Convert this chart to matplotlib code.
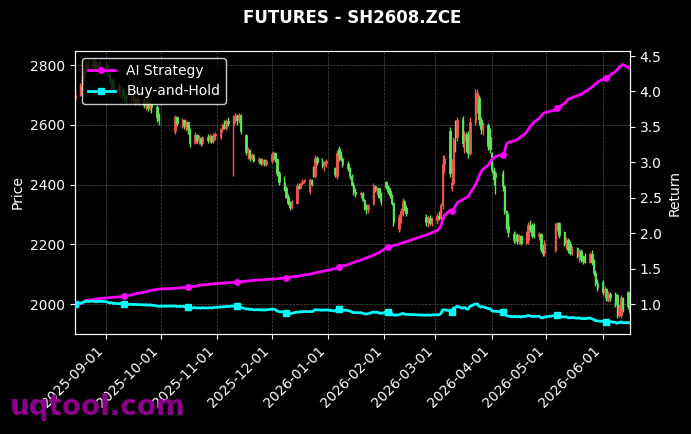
import numpy as np
import pandas as pd
import matplotlib
matplotlib.use("Agg")
import matplotlib.pyplot as plt
import matplotlib.dates as mdates

# ---- trading calendar (exchange holidays removed) ----
holidays = pd.to_datetime([
    "2025-10-01", "2025-10-02", "2025-10-03", "2025-10-06", "2025-10-07", "2025-10-08",
    "2026-01-01", "2026-01-02",
    "2026-02-16", "2026-02-17", "2026-02-18", "2026-02-19", "2026-02-20", "2026-02-23",
    "2026-04-06", "2026-05-01", "2026-05-04", "2026-05-05",
])
dates = pd.bdate_range("2025-08-15", "2026-06-16")
dates = dates[~dates.isin(holidays)]

# ---- OHLC ----
opens = [
    2690, 2700, 2730, 2755, 2780, 2805, 2795, 2815, 2790, 2800, 2795,
    2805, 2790, 2770, 2745, 2750, 2725, 2715, 2720, 2700, 2695, 2685, 2690, 2680, 2688, 2675,
    2682, 2665, 2675, 2655, 2668, 2660, 2625,
    2580, 2625, 2605, 2615, 2595, 2608, 2585, 2540, 2565, 2548, 2555, 2540, 2558, 2548, 2562, 2545, 2566,
    2560, 2585, 2598, 2590, 2612, 2600, 2625, 2630, 2615, 2632, 2565, 2510, 2515, 2490, 2498,
    2480, 2485, 2472, 2482, 2470,
    2478, 2490, 2505, 2485, 2440, 2410, 2390, 2360, 2340, 2325, 2340, 2395, 2390, 2405, 2412,
    2380, 2415, 2460, 2430, 2490, 2475, 2465, 2472,
    2455, 2430, 2520, 2500, 2485, 2470, 2455, 2430, 2400, 2375, 2368, 2372, 2350, 2330, 2318,
    2335, 2395, 2382, 2388, 2360,
    2410, 2392, 2380, 2365, 2340, 2250, 2280, 2300, 2345, 2320, 2290, 2275, 2288, 2270,
    2282, 2295, 2288, 2330, 2470, 2580, 2390, 2405, 2600, 2560, 2620, 2545, 2570, 2565, 2505,
    2610, 2690, 2690, 2615, 2585, 2600, 2560,
    2505, 2450, 2440, 2440, 2395, 2310, 2260, 2235, 2215, 2230, 2210, 2228, 2205, 2215, 2265,
    2250, 2265, 2228, 2235, 2185, 2170,
    2180, 2255, 2270, 2240, 2205, 2215, 2200, 2172, 2188, 2160, 2178, 2150, 2160, 2142, 2168,
    2140, 2105, 2072,
    2075, 2040, 2050, 2015, 2035, 2035, 2030, 1965, 1965, 2020, 2040, 1995,
]
highs = [
    2715, 2740, 2765, 2790, 2815, 2820, 2825, 2820, 2810, 2815, 2812,
    2815, 2800, 2785, 2760, 2755, 2740, 2730, 2725, 2715, 2705, 2700, 2705, 2695, 2698, 2690,
    2690, 2685, 2680, 2675, 2672, 2665, 2640,
    2632, 2630, 2622, 2620, 2615, 2610, 2590, 2575, 2570, 2565, 2560, 2562, 2570, 2568, 2566, 2572, 2575,
    2590, 2605, 2615, 2620, 2625, 2632, 2640, 2635, 2640, 2636, 2570, 2525, 2520, 2505, 2502,
    2492, 2490, 2488, 2486, 2485,
    2510, 2512, 2508, 2490, 2445, 2430, 2395, 2370, 2345, 2350, 2405, 2405, 2410, 2418, 2418,
    2422, 2420, 2462, 2500, 2495, 2490, 2480, 2485,
    2458, 2515, 2528, 2512, 2492, 2480, 2460, 2435, 2410, 2390, 2378, 2375, 2352, 2335, 2335,
    2405, 2400, 2392, 2390, 2375,
    2412, 2400, 2390, 2370, 2342, 2300, 2320, 2355, 2350, 2330, 2300, 2295, 2298, 2290,
    2305, 2310, 2340, 2500, 2500, 2592, 2485, 2560, 2615, 2625, 2630, 2580, 2575, 2580, 2625,
    2720, 2720, 2700, 2625, 2610, 2605, 2590,
    2510, 2460, 2445, 2450, 2400, 2315, 2305, 2245, 2240, 2238, 2235, 2232, 2245, 2275, 2280,
    2270, 2272, 2240, 2238, 2200, 2215,
    2270, 2275, 2275, 2245, 2225, 2220, 2210, 2195, 2192, 2185, 2185, 2165, 2170, 2175, 2180,
    2150, 2115, 2085,
    2080, 2060, 2055, 2045, 2040, 2040, 2035, 2000, 2030, 2025, 2045, 2005,
]
lows = [
    2680, 2695, 2720, 2745, 2770, 2785, 2790, 2780, 2770, 2780, 2775,
    2780, 2760, 2735, 2720, 2715, 2700, 2690, 2685, 2680, 2670, 2670, 2675, 2665, 2668, 2665,
    2655, 2650, 2645, 2648, 2640, 2610, 2600,
    2570, 2595, 2590, 2585, 2580, 2570, 2525, 2535, 2540, 2535, 2530, 2532, 2540, 2542, 2538, 2540, 2550,
    2552, 2575, 2585, 2582, 2595, 2430, 2605, 2600, 2605, 2570, 2500, 2485, 2480, 2482, 2475,
    2468, 2465, 2466, 2462, 2462,
    2472, 2480, 2475, 2430, 2400, 2380, 2355, 2330, 2315, 2318, 2335, 2385, 2388, 2400, 2405,
    2370, 2395, 2425, 2422, 2465, 2455, 2445, 2460,
    2425, 2420, 2480, 2478, 2460, 2445, 2420, 2395, 2365, 2360, 2355, 2345, 2315, 2300, 2305,
    2330, 2375, 2365, 2355, 2330,
    2385, 2370, 2355, 2330, 2260, 2240, 2270, 2295, 2310, 2295, 2262, 2258, 2265, 2262,
    2268, 2280, 2282, 2318, 2440, 2425, 2380, 2400, 2510, 2545, 2525, 2505, 2510, 2490, 2500,
    2600, 2640, 2600, 2570, 2565, 2515, 2505,
    2440, 2400, 2370, 2380, 2300, 2250, 2225, 2205, 2205, 2200, 2202, 2198, 2200, 2200, 2240,
    2220, 2220, 2215, 2175, 2160, 2160,
    2175, 2245, 2220, 2195, 2185, 2170, 2165, 2165, 2155, 2140, 2140, 2135, 2138, 2138, 2132,
    2095, 2060, 2045,
    2030, 2020, 2010, 2008, 2010, 1990, 1955, 1958, 1955, 1975, 1985, 1965,
]
closes = [
    2700, 2730, 2755, 2780, 2805, 2795, 2815, 2790, 2800, 2795, 2805,
    2790, 2770, 2745, 2750, 2725, 2715, 2720, 2700, 2695, 2685, 2690, 2680, 2688, 2675, 2682,
    2665, 2675, 2655, 2668, 2660, 2625, 2615,
    2625, 2605, 2615, 2595, 2608, 2585, 2540, 2565, 2548, 2555, 2540, 2558, 2548, 2562, 2545, 2566, 2570,
    2585, 2598, 2590, 2612, 2605, 2625, 2630, 2615, 2632, 2580, 2510, 2515, 2490, 2498, 2480,
    2485, 2472, 2482, 2470, 2478,
    2502, 2505, 2485, 2440, 2410, 2390, 2360, 2340, 2325, 2345, 2395, 2390, 2405, 2412, 2415,
    2415, 2402, 2432, 2490, 2475, 2465, 2472, 2478,
    2435, 2505, 2500, 2485, 2470, 2455, 2430, 2400, 2375, 2368, 2372, 2350, 2330, 2318, 2330,
    2395, 2382, 2388, 2360, 2345,
    2392, 2380, 2365, 2340, 2275, 2290, 2310, 2345, 2320, 2305, 2275, 2288, 2270, 2282,
    2295, 2288, 2330, 2470, 2485, 2440, 2405, 2550, 2560, 2615, 2540, 2570, 2520, 2505, 2610,
    2700, 2705, 2620, 2585, 2600, 2530, 2520,
    2450, 2420, 2425, 2395, 2310, 2260, 2240, 2215, 2230, 2210, 2228, 2205, 2240, 2265, 2250,
    2230, 2228, 2235, 2185, 2170, 2205,
    2260, 2270, 2230, 2205, 2215, 2180, 2172, 2188, 2160, 2178, 2150, 2145, 2142, 2168, 2140,
    2105, 2072, 2055,
    2040, 2050, 2015, 2035, 2025, 2000, 1965, 1990, 2020, 1985, 1995, 1972,
]
ai_strategy = [
    1.000, 1.005, 1.012, 1.035, 1.050, 1.052, 1.060, 1.068, 1.072, 1.075, 1.080,
    1.085, 1.088, 1.090, 1.092, 1.095, 1.100, 1.102, 1.105, 1.110, 1.118, 1.128, 1.135, 1.142,
    1.150, 1.155, 1.165, 1.172, 1.180, 1.188, 1.195, 1.205, 1.210,
    1.222, 1.225, 1.230, 1.233, 1.236, 1.240, 1.243, 1.250, 1.256, 1.262, 1.266, 1.270, 1.275,
    1.280, 1.282, 1.285, 1.288,
    1.292, 1.295, 1.298, 1.300, 1.302, 1.306, 1.308, 1.310, 1.313, 1.316, 1.322, 1.325, 1.328,
    1.331, 1.334, 1.338, 1.340, 1.342, 1.344, 1.346,
    1.350, 1.352, 1.354, 1.356, 1.360, 1.366, 1.370, 1.374, 1.378, 1.382, 1.390, 1.395, 1.400,
    1.405, 1.410, 1.420, 1.426, 1.432, 1.440, 1.446, 1.460, 1.466, 1.472,
    1.500, 1.510, 1.520, 1.528, 1.535, 1.555, 1.565, 1.575, 1.585, 1.595, 1.620, 1.630, 1.640,
    1.650, 1.660, 1.690, 1.700, 1.712, 1.725, 1.740,
    1.790, 1.800, 1.810, 1.818, 1.825, 1.845, 1.855, 1.865, 1.872, 1.880, 1.975, 1.985, 1.995, 2.005,
    2.040, 2.060, 2.100, 2.180, 2.250, 2.320, 2.310, 2.330, 2.380, 2.430, 2.470, 2.490, 2.500,
    2.515, 2.560, 2.680, 2.740, 2.800, 2.860, 2.900, 2.960, 3.000,
    3.040, 3.060, 3.080, 3.110, 3.140, 3.250, 3.280, 3.300, 3.310, 3.320, 3.340, 3.360, 3.420,
    3.460, 3.500, 3.530, 3.560, 3.620, 3.650, 3.680, 3.700,
    3.740, 3.760, 3.780, 3.830, 3.860, 3.890, 3.900, 3.910, 3.940, 3.950, 3.960, 3.975, 3.990,
    4.040, 4.060, 4.080, 4.110, 4.130,
    4.170, 4.180, 4.190, 4.200, 4.230, 4.280, 4.310, 4.340, 4.360, 4.380, 4.340, 4.320,
]

o = np.array(opens, float)
h = np.array(highs, float)
l = np.array(lows, float)
c = np.array(closes, float)
buy_hold = c / c[0]

UP = "#ef5a4c"
DOWN = "#5fe65a"

fig = plt.figure(figsize=(6.91, 4.34), dpi=100, facecolor="black")
ax = fig.add_axes([75 / 691, 1 - 334 / 434, 555 / 691, 283 / 434])
ax.set_facecolor("black")

xd = mdates.date2num(dates.to_pydatetime())
colors = np.where(c >= o, UP, DOWN)
ax.vlines(xd, l, h, colors=colors, linewidth=1.0, zorder=2)
body = np.where(np.abs(c - o) < 2, 2, c - o)
ax.bar(xd, body, bottom=o, width=0.8, color=colors, edgecolor=colors,
       linewidth=0.6, zorder=3)

ax.set_ylim(1900, 2847)
ax.set_xlim(xd[0], xd[-1])
ax.set_yticks([2000, 2200, 2400, 2600, 2800])
ax.xaxis.set_major_locator(mdates.MonthLocator())
ax.xaxis.set_major_formatter(mdates.DateFormatter("%Y-%m-%d"))
ax.grid(True, color="#888888", linestyle="--", linewidth=0.5, alpha=0.6)
ax.set_ylabel("Price", color="white", fontsize=10)
for lab in ax.get_xticklabels():
    lab.set_rotation(45)
    lab.set_ha("right")
ax.tick_params(colors="white", labelsize=10)
for s in ax.spines.values():
    s.set_color("white")

ax2 = ax.twinx()
ax2.patch.set_visible(False)
ax2.plot(xd, ai_strategy, color="#ff00ff", linewidth=2, marker="o", markersize=4,
         markevery=19, label="AI Strategy", zorder=5)
ax2.plot(xd, buy_hold, color="#00ffff", linewidth=2, marker="s", markersize=4,
         markevery=19, label="Buy-and-Hold", zorder=5)
ax2.set_ylim(0.577, 4.571)
ax2.set_yticks([1.0, 1.5, 2.0, 2.5, 3.0, 3.5, 4.0, 4.5])
ax2.set_ylabel("Return", color="white", fontsize=10)
ax2.tick_params(colors="white", labelsize=10)
for s in ax2.spines.values():
    s.set_color("white")
leg = ax2.legend(loc="upper left", facecolor="black", edgecolor="white",
                 framealpha=0.8, fontsize=10)
for t in leg.get_texts():
    t.set_color("white")

fig.suptitle("FUTURES - SH2608.ZCE", color="white", fontsize=12, fontweight="bold",
             x=352 / 691, y=1 - 9 / 434, va="top")
fig.text(10 / 691, 1 - 415 / 434, "uqtool.com", color="#8b008b", fontsize=20,
         fontweight="bold", va="baseline", ha="left")

fig.savefig("out.png", dpi=100, facecolor="black")
